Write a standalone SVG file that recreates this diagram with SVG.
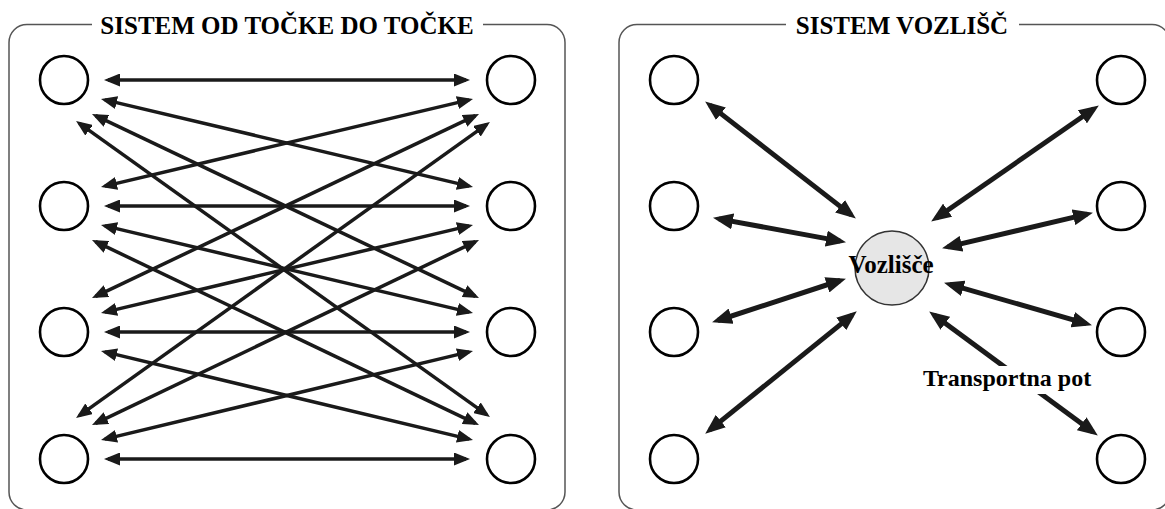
<svg xmlns="http://www.w3.org/2000/svg" width="1165" height="509" viewBox="0 0 1165 509">
  <style>
    .frame { fill: none; stroke: #555; stroke-width: 1.5; }
    .node { fill: #fff; stroke: #000; stroke-width: 2.6; }
    .hub { fill: #e6e6e6; stroke: #333; stroke-width: 1.5; }
    .title { font-family: "Liberation Serif", "Times New Roman", serif; font-weight: bold; font-size: 25px; fill: #000; text-anchor: middle; }
    .label { font-family: "Liberation Serif", "Times New Roman", serif; font-weight: bold; fill: #000; text-anchor: middle; }
    .link { stroke: #1a1a1a; stroke-width: 3.5; fill: none; marker-start: url(#head); marker-end: url(#head); }
    .spoke { stroke: #1a1a1a; stroke-width: 5; fill: none; marker-start: url(#headBig); marker-end: url(#headBig); }
  </style>
  <defs>
    <marker id="head" markerUnits="userSpaceOnUse" markerWidth="16" markerHeight="13" refX="12" refY="6.5" orient="auto-start-reverse">
      <path d="M0,0 L16,6.5 L0,13 z" fill="#1a1a1a"/>
    </marker>
    <marker id="headBig" markerUnits="userSpaceOnUse" markerWidth="20" markerHeight="16" refX="14" refY="8" orient="auto-start-reverse">
      <path d="M0,0 L20,8 L0,16 z" fill="#1a1a1a"/>
    </marker>
  </defs>

  <rect width="1165" height="509" fill="#fff"/>

  <!-- point-to-point panel -->
  <g id="panel-p2p">
    <path class="frame" d="M92,24.5 H27 A18,18 0 0 0 9,42.5 V492 A18,18 0 0 0 27,510 H547 A18,18 0 0 0 565,492 V42.5 A18,18 0 0 0 547,24.5 H483"/>
    <text class="title" x="287" y="34">SISTEM OD TOČKE DO TOČKE</text>
  </g>

  <g id="p2p-links">
    <line class="link" x1="108" y1="80" x2="466" y2="80"/>
    <line class="link" x1="104.9" y1="99.9" x2="469.1" y2="186.1"/>
    <line class="link" x1="95.6" y1="115.7" x2="475.4" y2="296.3"/>
    <line class="link" x1="79.3" y1="123.3" x2="486.7" y2="414.7"/>
    <line class="link" x1="104.9" y1="186.1" x2="469.1" y2="99.9"/>
    <line class="link" x1="108" y1="206" x2="466" y2="206"/>
    <line class="link" x1="104.9" y1="225.9" x2="469.1" y2="312.1"/>
    <line class="link" x1="95.6" y1="241.7" x2="475.4" y2="423.3"/>
    <line class="link" x1="95.6" y1="296.3" x2="475.4" y2="115.7"/>
    <line class="link" x1="104.9" y1="312.1" x2="469.1" y2="225.9"/>
    <line class="link" x1="108" y1="332" x2="466" y2="332"/>
    <line class="link" x1="104.9" y1="351.9" x2="469.1" y2="439.1"/>
    <line class="link" x1="79.3" y1="415.7" x2="486.7" y2="124.3"/>
    <line class="link" x1="95.6" y1="423.3" x2="475.4" y2="241.7"/>
    <line class="link" x1="104.9" y1="439.1" x2="469.1" y2="351.9"/>
    <line class="link" x1="108" y1="459" x2="466" y2="459"/>
  </g>

  <g id="p2p-left-1"><circle class="node" cx="64" cy="80" r="24"/></g>
  <g id="p2p-left-2"><circle class="node" cx="64" cy="206" r="24"/></g>
  <g id="p2p-left-3"><circle class="node" cx="64" cy="332" r="24"/></g>
  <g id="p2p-left-4"><circle class="node" cx="64" cy="459" r="24"/></g>
  <g id="p2p-right-1"><circle class="node" cx="511" cy="80" r="24"/></g>
  <g id="p2p-right-2"><circle class="node" cx="511" cy="206" r="24"/></g>
  <g id="p2p-right-3"><circle class="node" cx="511" cy="332" r="24"/></g>
  <g id="p2p-right-4"><circle class="node" cx="511" cy="459" r="24"/></g>

  <!-- hub panel -->
  <g id="panel-hub">
    <path class="frame" d="M786,24.5 H637 A18,18 0 0 0 619,42.5 V492 A18,18 0 0 0 637,510 H1152 A18,18 0 0 0 1170,492 V42.5 A18,18 0 0 0 1152,24.5 H1019"/>
    <text class="title" x="902" y="34">SISTEM VOZLIŠČ</text>
  </g>

  <g id="hub-spokes">
    <line class="spoke" x1="709.9" y1="105.1" x2="851.1" y2="214.9"/>
    <line class="spoke" x1="718.9" y1="218.9" x2="840.1" y2="241.1"/>
    <line class="spoke" x1="717.8" y1="320.5" x2="840.2" y2="280.5"/>
    <line class="spoke" x1="709.9" y1="429.9" x2="852.1" y2="315.1"/>
    <line class="spoke" x1="1093.9" y1="108.8" x2="936.1" y2="218.2"/>
    <line class="spoke" x1="1087.1" y1="214.1" x2="947.9" y2="246.9"/>
    <line class="spoke" x1="1086.2" y1="323.6" x2="949.8" y2="284.4"/>
    <line class="spoke" x1="1093" y1="432" x2="934" y2="315"/>
  </g>

  <g id="hub-left-1"><circle class="node" cx="674" cy="80" r="24"/></g>
  <g id="hub-left-2"><circle class="node" cx="674" cy="206" r="24"/></g>
  <g id="hub-left-3"><circle class="node" cx="674" cy="332" r="24"/></g>
  <g id="hub-left-4"><circle class="node" cx="674" cy="459" r="24"/></g>
  <g id="hub-right-1"><circle class="node" cx="1121" cy="80" r="24"/></g>
  <g id="hub-right-2"><circle class="node" cx="1121" cy="206" r="24"/></g>
  <g id="hub-right-3"><circle class="node" cx="1121" cy="332" r="24"/></g>
  <g id="hub-right-4"><circle class="node" cx="1121" cy="459" r="24"/></g>

  <g id="hub-center">
    <circle class="hub" cx="892" cy="268" r="37"/>
    <text class="label" x="891" y="273" font-size="25">Vozlišče</text>
  </g>

  <g id="route-label">
    <rect x="916" y="366" width="182" height="28" fill="#fff"/>
    <text class="label" x="1007" y="386" font-size="24">Transportna pot</text>
  </g>
</svg>
